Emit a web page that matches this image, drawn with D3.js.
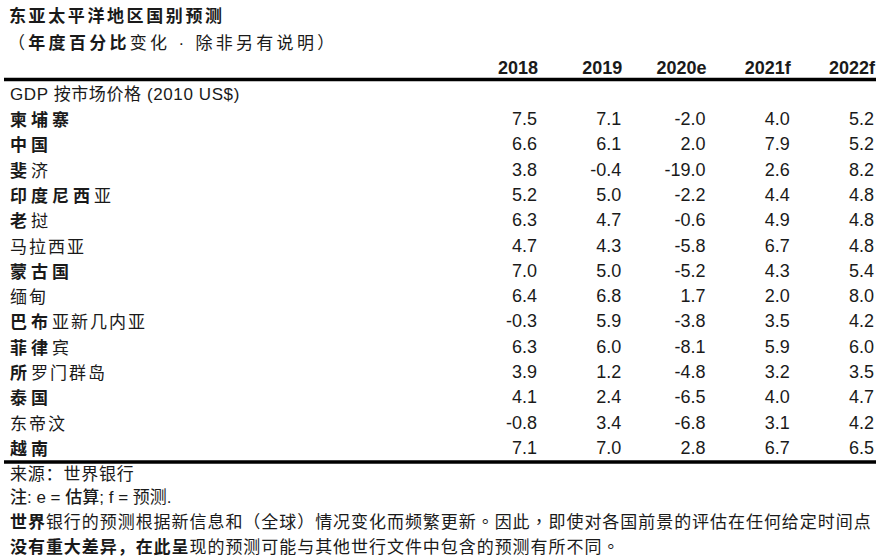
<!DOCTYPE html>
<html>
<head>
<meta charset="utf-8">
<script src="https://cdn.jsdelivr.net/npm/d3@7"></script>
<style>
  html, body { margin: 0; padding: 0; background: #fff; }
  svg { display: block; }
  text { fill: #1a1a1a; }
</style>
</head>
<body>
<svg id="chart" width="892" height="559"></svg>
<script>
// ---- data ----
const years = ["2018", "2019", "2020e", "2021f", "2022f"];
const countries = ["柬埔寨", "中国", "斐济", "印度尼西亚", "老挝", "马拉西亚", "蒙古国", "缅甸",
  "巴布亚新几内亚", "菲律宾", "所罗门群岛", "泰国", "东帝汶", "越南"];
// number of leading characters of each name printed in bold
const boldChars = [3, 2, 1, 4, 1, 0, 3, 0, 2, 2, 1, 2, 0, 2];
const v2018 = [7.5, 6.6, 3.8, 5.2, 6.3, 4.7, 7.0, 6.4, -0.3, 6.3, 3.9, 4.1, -0.8, 7.1];
const v2019 = [7.1, 6.1, -0.4, 5.0, 4.7, 4.3, 5.0, 6.8, 5.9, 6.0, 1.2, 2.4, 3.4, 7.0];
const v2020 = [-2.0, 2.0, -19.0, -2.2, -0.6, -5.8, -5.2, 1.7, -3.8, -8.1, -4.8, -6.5, -6.8, 2.8];
const v2021 = [4.0, 7.9, 2.6, 4.4, 4.9, 6.7, 4.3, 2.0, 3.5, 5.9, 3.2, 4.0, 3.1, 6.7];
const v2022 = [5.2, 5.2, 8.2, 4.8, 4.8, 4.8, 5.4, 8.0, 4.2, 6.0, 3.5, 4.7, 4.2, 6.5];
const seriesValues = [v2018, v2019, v2020, v2021, v2022];

const title = "东亚太平洋地区国别预测";
const subtitleBold = "年度百分比";
const subtitleRest = "变化 · 除非另有说明";
const sectionLabel = "GDP 按市场价格 (2010 US$)";
const sourceNote = "来源：世界银行";
const noteBold = "注: e = 估算; f =";
const noteRest = " 预测.";
const foot1Bold = "世界";
const foot1Rest = "银行的预测根据新信息和（全球）情况变化而频繁更新";
const foot1Tail = "。因此，即使对各国前景的评估在任何给定时间点";
const foot2Bold = "没有重大差异，在此呈";
const foot2Rest = "现的预测可能与其他世行文件中包含的预测有所不同";
const foot2Tail = "。";

// ---- drawing ----
const svg = d3.select("#chart");
const W = 892, H = 559;
svg.append("rect").attr("width", W).attr("height", H).attr("fill", "#fff");

const SC = "'Liberation Sans', Arial, 'Noto Sans CJK SC', sans-serif";
const TC = "'Noto Sans CJK TC', 'Liberation Sans', sans-serif";

const x = d3.scalePoint().domain(years).range([538, 875]);   // right edge of each column
const y = d3.scalePoint().domain(countries).range([125, 454]); // baseline of each row

// title
svg.append("text").attr("x", 9).attr("y", 22)
  .style("font-family", SC).style("font-size", "17px").style("font-weight", 700)
  .style("letter-spacing", "2.6px").text(title);

// subtitle
const sub = svg.append("text").attr("x", 8).attr("y", 49)
  .style("font-family", SC).style("font-size", "17px").style("letter-spacing", "3.3px");
sub.append("tspan").text("（");
sub.append("tspan").style("font-weight", 700).text(subtitleBold);
sub.append("tspan").text(subtitleRest);
sub.append("tspan").text("）");

// header years
svg.append("g").selectAll("text").data(years).join("text")
  .attr("x", d => x(d)).attr("y", 74).attr("text-anchor", "end")
  .style("font-family", SC).style("font-size", "18px").style("font-weight", 700)
  .text(d => d);

// rules
svg.append("line").attr("x1", 4).attr("x2", 876).attr("y1", 79.5).attr("y2", 79.5)
  .attr("stroke", "#000").attr("stroke-width", 3.5);
svg.append("line").attr("x1", 4).attr("x2", 876).attr("y1", 462).attr("y2", 462)
  .attr("stroke", "#000").attr("stroke-width", 3.5);

// section label
svg.append("text").attr("x", 10).attr("y", 100)
  .style("font-family", SC).style("font-size", "17px").style("letter-spacing", "0.6px")
  .text(sectionLabel);

// country labels
const labels = svg.append("g").selectAll("text").data(countries).join("text")
  .attr("x", 10).attr("y", d => y(d) + 1)
  .style("font-family", SC).style("font-size", "17px");
labels.each(function(d, i) {
  const t = d3.select(this);
  const nb = boldChars[i];
  if (nb > 0) t.append("tspan").style("font-weight", 700).style("letter-spacing", "4px").text(d.slice(0, nb));
  if (nb < d.length) t.append("tspan").style("letter-spacing", "2px").text(d.slice(nb));
});

// values
const cells = [];
years.forEach((yr, j) => countries.forEach((c, i) => cells.push({ yr, c, v: seriesValues[j][i] })));
svg.append("g").selectAll("text").data(cells).join("text")
  .attr("x", d => x(d.yr) - 1).attr("y", d => y(d.c))
  .attr("text-anchor", "end")
  .style("font-family", SC).style("font-size", "18px")
  .text(d => d3.format(".1f")(d.v).replace("−", "-"));

// footnotes
svg.append("text").attr("x", 10).attr("y", 480)
  .style("font-family", SC).style("font-size", "17px").style("letter-spacing", "0.8px")
  .text(sourceNote);

const n = svg.append("text").attr("x", 10).attr("y", 503)
  .style("font-family", SC).style("font-size", "17px");
n.append("tspan").style("font-weight", 500).text(noteBold);
n.append("tspan").text(noteRest);

const f1 = svg.append("text").attr("x", 10).attr("y", 528)
  .style("font-family", SC).style("font-size", "17px").style("letter-spacing", "0.95px");
f1.append("tspan").style("font-weight", 700).text(foot1Bold);
f1.append("tspan").text(foot1Rest);
f1.append("tspan").attr("lang", "zh-TW").style("font-family", TC).text(foot1Tail);

const f2 = svg.append("text").attr("x", 10).attr("y", 553)
  .style("font-family", SC).style("font-size", "17px").style("letter-spacing", "0.95px");
f2.append("tspan").style("font-weight", 700).text(foot2Bold);
f2.append("tspan").text(foot2Rest);
f2.append("tspan").attr("lang", "zh-TW").style("font-family", TC).text(foot2Tail);
</script>
</body>
</html>
